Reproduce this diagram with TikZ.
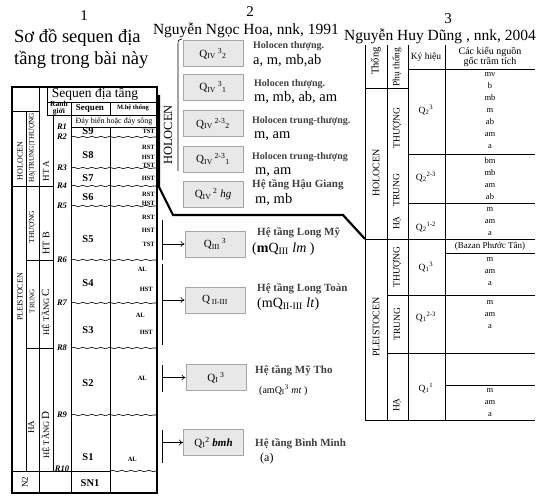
\documentclass[tikz,border=0pt]{standalone}
\usepackage{fontspec}
\setmainfont{Liberation Serif}
\usetikzlibrary{arrows.meta,decorations.pathmorphing}
\newcommand{\fsz}[1]{\fontsize{#1}{#1}\selectfont}
\newcommand{\qiv}[2]{Q\textsubscript{IV}\,\textsuperscript{#1}\textsubscript{#2}}
\newcommand{\qq}[2]{Q\textsubscript{#1}\textsuperscript{#2}}

\begin{document}
\begin{tikzpicture}[x=1pt,y=-1pt,
  grid/.style={line width=.6pt},
  frame/.style={line width=1.2pt},
  wave/.style={line width=.6pt,decorate,decoration={snake,amplitude=.7pt,segment length=9pt}},
  heavy/.style={line width=2.2pt,line join=miter},
  qbox/.style={draw=gray!70,fill=gray!18,line width=1pt,minimum width=60pt,minimum height=26pt,inner sep=0pt,font=\fsz{11}},
  lab/.style={inner sep=0pt},
  rot/.style={inner sep=0pt,rotate=90},
  note/.style={inner sep=0pt,anchor=west,font=\fsz{10}\bfseries,text=black!75},
  big/.style={inner sep=0pt,anchor=west,font=\fsz{14.5}},
  arr/.style={-{To[length=4pt,width=6pt]},line width=.6pt}]
\useasboundingbox (0,0) rectangle (547,504);

\node[lab,font=\fsz{15}] (n1) at (84,16) {1};
\node[lab,anchor=west,font=\fsz{18.5}] (t1a) at (14,38) {Sơ đồ sequen địa};
\node[lab,anchor=west,font=\fsz{18.5}] (t1b) at (14,60) {tầng trong bài này};
\node[lab,font=\fsz{15}] (n2) at (250,12) {2};
\node[lab,font=\fsz{15.5}] (t2) at (246,30) {Nguyễn Ngọc Hoa, nnk, 1991};
\node[lab,font=\fsz{15}] (n3) at (448,19) {3};
\node[lab,font=\fsz{15.5}] (t3) at (440,36) {Nguyễn Huy Dũng , nnk, 2004};

\draw[frame] (12,87) rectangle (157,493);
\draw[grid] (39,87) -- (39,493);
\draw[grid] (47,87) -- (47,115);
\draw[grid] (47,102) -- (157,102);
\draw[grid] (47,115) -- (157,115);
\draw[grid] (71,102) -- (71,493);
\draw[grid] (110,102) -- (110,115);
\draw[grid] (71,127) -- (157,127);
\draw[grid] (110,127) -- (110,493);
\draw[grid] (53,115) -- (53,471);
\draw[grid] (12,111) -- (39,111);
\draw[grid] (26,111) -- (26,471);
\draw[grid] (12,186) -- (53,186);
\draw[grid] (26,260) -- (53,260);
\draw[grid] (26,348) -- (53,348);
\draw[grid] (12,471) -- (110,471);
\foreach \y in {137,168,186,206,260,303,348,415}
  \draw[wave] (71,\y) -- (157,\y);
\draw[wave] (110,471) -- (157,471);

\node[lab,font=\fsz{13.5}] (seq) at (95,94) {Sequen địa tầng};
\node[lab,font=\fsz{7.5}\bfseries,align=center] (ranh) at (59,108) {Ranh\\giới};
\node[lab,font=\fsz{9}\bfseries] (sqn) at (90,108) {Sequen};
\node[lab,font=\fsz{6.5}\bfseries] (mht) at (133,108) {M.hệ thống};
\node[lab,font=\fsz{8}] (day) at (114,121) {Đáy biển hoặc đáy sông};
\foreach \n/\y in {1/127,2/137,3/168,4/186,5/206,6/260,7/303,8/348,9/415,10/469}
  \node[lab,font=\fsz{8.5}\bfseries\itshape] (r\n) at (62,\y) {R\n};
\foreach \n/\y in {9/131,8/155,7/178,6/197,5/239,4/283,3/330,2/383,1/457}
  \node[lab,font=\fsz{10.5}\bfseries] (s\n) at (88,\y) {S\n};
\node[lab,font=\fsz{10.5}\bfseries] (sn1) at (90,483) {SN1};
\foreach \t/\x/\y [count=\i] in {TST/155/131,RST/155/147,HST/155/157,TST/155/165,HST/155/178,
  RST/155/194,HST/155/203,RST/155/217,HST/155/230,TST/155/244,AL/147/269,HST/153/289,
  AL/145/315,HST/153/332,AL/147/378,AL/137/459}
  \node[lab,anchor=east,font=\fsz{6.5}\bfseries] (m\i) at (\x,\y) {\t};

\node[rot,font=\fsz{8}] (holL) at (20,161) {HOLOCEN};
\node[rot,font=\fsz{7.3}] (httL) at (32,148) {HẠ|TRUNG|THƯỢNG};
\node[rot,font=\fsz{8}] (plL) at (20,297) {PLEISTOCEN};
\node[rot,font=\fsz{7.5}] (thL) at (32,227) {THƯỢNG};
\node[rot,font=\fsz{7}] (trL) at (32,301) {TRUNG};
\node[rot,font=\fsz{9}] (haL) at (32,427) {HẠ};
\node[rot,font=\fsz{9}] (hta) at (46,171) {HT A};
\node[rot,font=\fsz{10}] (htb) at (46,243) {HT B};
\node[rot,font=\fsz{8.5}] (htc) at (46,312) {HỆ TẦNG {\fsz{11}C}};
\node[rot,font=\fsz{8.5}] (htd) at (46,435) {HỆ TẦNG {\fsz{11}D}};
\node[rot,font=\fsz{9}] (n2L) at (25,482) {N2};

\draw[heavy] (159,95) -- (159,187) -- (173,215) -- (343,215) -- (365,239);
\node[rot,font=\fsz{12.5}] (holM) at (168,135) {HOLOCEN};
\draw[grid] (182,39) .. controls (178,40) .. (178,46) -- (178,171);

\node[qbox] (q1) at (213,53.5) {\qiv{3}{2}};
\node[qbox] (q2) at (213,87) {\qiv{3}{1}};
\node[qbox] (q3) at (213,123.5) {\qiv{2-3}{2}};
\node[qbox] (q4) at (213,159) {\qiv{2-3}{1}};
\node[qbox] (q5) at (213,194) {Q\textsubscript{IV}\,\textsuperscript{2} \textit{hg}};
\node[qbox] (q6) at (215,244) {Q\textsubscript{III}\,\textsuperscript{3}};
\node[qbox] (q7) at (215,300) {Q\,\textsubscript{II-III}};
\node[qbox] (q8) at (216,377.5) {Q\textsubscript{I}\,\textsuperscript{3}};
\node[qbox] (q9) at (213.5,442.5) {Q\textsubscript{I}\textsuperscript{2} \textbf{\textit{bmh}}};

\node[note] (h1) at (253,46) {Holocen thượng.};
\node[big] (g1) at (253,61) {a, m, mb,ab};
\node[note] (h2) at (254,84) {Holocen thượng.};
\node[big] (g2) at (254,98) {m, mb, ab, am};
\node[note] (h3) at (252,121) {Holocen trung-thượng.};
\node[big] (g3) at (254,136) {m, am};
\node[note] (h4) at (252,157) {Holocen trung-thượng};
\node[big] (g4) at (255,172) {m, am};
\node[note,font=\fsz{11}\bfseries] (h5) at (252,185) {Hệ tầng Hậu Giang};
\node[big] (g5) at (255,200) {m, mb};
\node[note,font=\fsz{11}\bfseries] (h6) at (257,233) {Hệ tầng Long Mỹ};
\node[big,font=\fsz{14}] (g6) at (252,249) {(\textbf{m}Q\textsubscript{III} \textit{lm} )};
\node[note,font=\fsz{11}\bfseries] (h7) at (257,289) {Hệ tầng Long Toàn};
\node[big,font=\fsz{14}] (g7) at (257,304) {(mQ\textsubscript{II-III} \textit{lt})};
\node[note,font=\fsz{11}\bfseries] (h8) at (255,371) {Hệ tầng Mỹ Tho};
\node[lab,anchor=west,font=\fsz{10}] (g8) at (259,390) {(amQ\textsubscript{I}\textsuperscript{3} \textit{mt} )};
\node[note,font=\fsz{11}\bfseries] (h9) at (255,444) {Hệ tầng Bình Minh};
\node[lab,anchor=west,font=\fsz{12}] (g9) at (260,459) {(a)};

\draw[grid] (162,220) -- (162,260);
\draw[grid] (162,264) -- (162,345);
\draw[grid] (162,365) -- (162,392);
\draw[grid] (162,430) -- (162,463);
\coordinate (a6) at (162,244);
\coordinate (a7) at (162,300);
\coordinate (a8) at (162,377.5);
\coordinate (a9) at (162,442.5);
\draw[arr] (a6) -- (q6);
\draw[arr] (a7) -- (q7);
\draw[arr] (a8) -- (q8);
\draw[arr] (a9) -- (q9);

\draw[grid] (365,45) -- (365,420);
\draw[grid] (387,45) -- (387,420);
\draw[grid] (408,45) -- (408,420);
\draw[grid] (445,45) -- (445,420);
\draw[grid] (365,88) -- (408,88);
\draw[grid] (408,69) -- (535,69);
\draw[grid] (408,154) -- (535,154);
\draw[grid] (408,203) -- (535,203);
\draw[grid] (365,239) -- (535,239);
\draw[grid] (445,253) -- (535,253);
\draw[grid] (387,295) -- (535,295);
\draw[grid] (387,353) -- (535,353);
\draw[grid] (445,385) -- (535,385);
\draw[grid] (365,420) -- (535,420);

\node[rot,font=\fsz{10.5}] (thg) at (376,61) {Thống};
\node[rot,font=\fsz{9.5}] (pth) at (397,67) {Phụ thống};
\node[lab,font=\fsz{9.5}] (kyh) at (426,57) {Ký hiệu};
\node[lab,font=\fsz{10},align=center] (ckn) at (490,57) {Các kiểu nguồn\\gốc trầm tích};
\node[rot,font=\fsz{10}] (holR) at (376,173) {HOLOCEN};
\node[rot,font=\fsz{10}] (plR) at (376,327) {PLEISTOCEN};
\node[rot,font=\fsz{9.5}] (th1) at (397,128) {THƯỢNG};
\node[rot,font=\fsz{9.5}] (htr) at (397,202) {HẠ\quad TRUNG};
\node[rot,font=\fsz{9.5}] (th2) at (397,267) {THƯỢNG};
\node[rot,font=\fsz{9.5}] (tr2) at (397,324) {TRUNG};
\node[rot,font=\fsz{9.5}] (ha2) at (397,405) {HẠ};
\node[lab,font=\fsz{9.5}] (k1) at (426,110) {\qq{2}{3}};
\node[lab,font=\fsz{9.5}] (k2) at (426,177) {\qq{2}{2-3}};
\node[lab,font=\fsz{9.5}] (k3) at (426,227) {\qq{2}{1-2}};
\node[lab,font=\fsz{9.5}] (k4) at (426,267) {\qq{1}{3}};
\node[lab,font=\fsz{9.5}] (k5) at (426,317) {\qq{1}{2-3}};
\node[lab,font=\fsz{9.5}] (k6) at (426,388) {\qq{1}{1}};
\node[lab,font=\fontsize{8.5}{12}\selectfont,align=center] (c1) at (490,111) {mv\\b\\mb\\m\\ab\\am\\a};
\node[lab,font=\fontsize{8.5}{12}\selectfont,align=center] (c2) at (490,179) {bm\\mb\\am\\ab};
\node[lab,font=\fontsize{8.5}{12}\selectfont,align=center] (c3) at (490,222) {m\\am\\a};
\node[lab,font=\fsz{9}] (baz) at (490,246) {(Bazan Phước Tân)};
\node[lab,font=\fontsize{8.5}{12}\selectfont,align=center] (c4) at (490,272) {m\\am\\a};
\node[lab,font=\fontsize{8.5}{12}\selectfont,align=center] (c5) at (490,315) {m\\am\\a};
\node[lab,font=\fontsize{8.5}{12}\selectfont,align=center] (c6) at (490,403) {m\\am\\a};
\end{tikzpicture}
\end{document}
